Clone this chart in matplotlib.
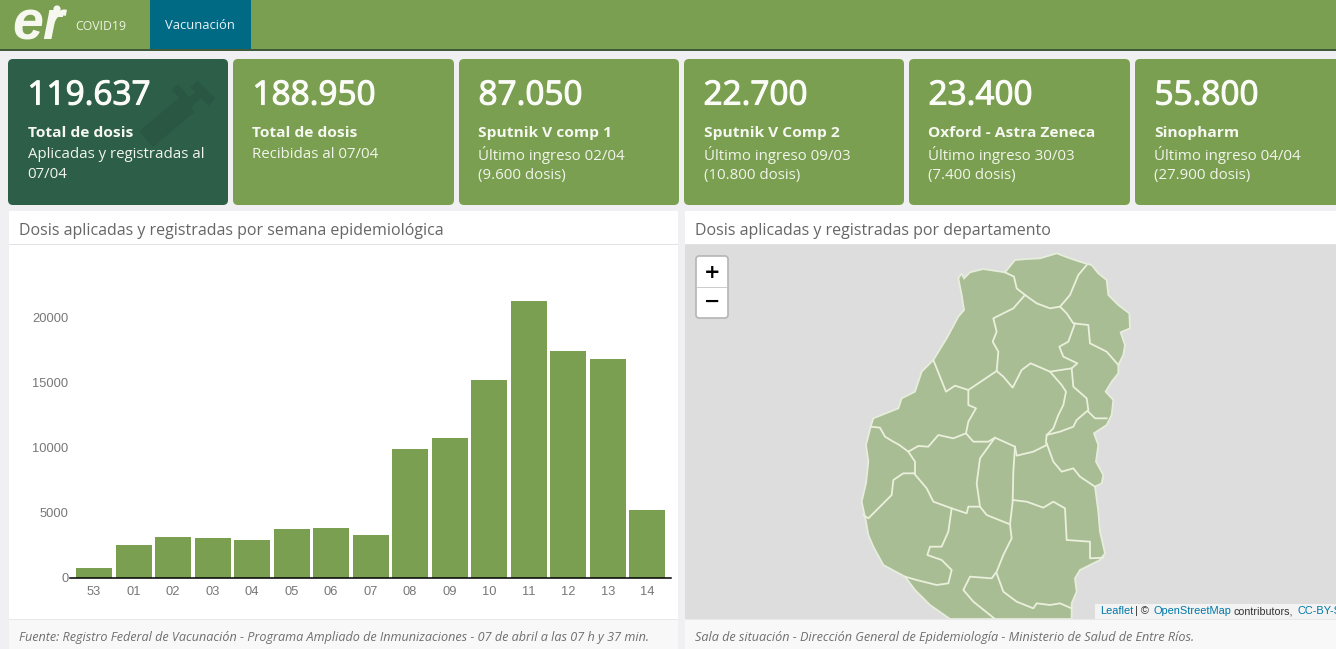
import matplotlib
matplotlib.use('Agg')
import matplotlib.pyplot as plt
import matplotlib.patheffects as pe
from matplotlib.patches import FancyBboxPatch, Rectangle, Polygon, Circle
import numpy as np

W, H = 1336, 649
GREEN = '#7a9f50'
DARK = '#2c5e48'
GREY_TXT = '#666666'
SANS = ['Open Sans', 'DejaVu Sans']

# weekly doses
semanas = ['53', '01', '02', '03', '04', '05', '06', '07', '08', '09', '10', '11', '12', '13', '14']
dosis = [770, 2500, 3140, 3040, 2940, 3760, 3860, 3300, 9910, 10750, 15220, 21280, 17390, 16780, 5240]
yticks = [0, 5000, 10000, 15000, 20000]

# top cards
card_num = ['119.637', '188.950', '87.050', '22.700', '23.400', '55.800']
card_tit = ['Total de dosis', 'Total de dosis', 'Sputnik V comp 1', 'Sputnik V Comp 2',
            'Oxford - Astra Zeneca', 'Sinopharm']
card_l1 = ['Aplicadas y registradas al', 'Recibidas al 07/04', 'Último ingreso 02/04',
           'Último ingreso 09/03', 'Último ingreso 30/03', 'Último ingreso 04/04']
card_l2 = ['07/04', '', '(9.600 dosis)', '(10.800 dosis)', '(7.400 dosis)', '(27.900 dosis)']
card_x0 = [8, 233, 459, 684, 909, 1135]
card_x1 = [228, 454, 679, 904, 1130, 1345]

# province outline and department borders
contorno = [(365,85),(372,100),(390,82),(430,72),(495,82),(525,45),(560,42),(600,40),(650,25),(690,40),
            (735,55),(755,60),(775,85),(800,105),(805,150),(835,180),(868,205),(870,250),(842,262),(855,300),
            (850,330),(835,360),(835,385),(815,410),(797,440),(820,465),(815,510),(800,540),(762,565),(775,600),
            (768,650),(790,690),(785,715),(765,725),(775,800),(780,860),(795,925),(780,945),(720,975),(705,1000),
            (710,1040),(695,1075),(695,1122),(330,1122),(270,1080),(225,1035),(195,995),(130,960),(100,905),(85,870),
            (78,830),(65,770),(78,715),(85,650),(78,600),(92,545),(100,520),(175,490),(185,460),(225,440),
            (245,380),(280,345),(320,280),(355,215),(372,195),(365,150),(355,100)]
limites = [
    [(495,82),(522,95),(530,130),(555,150)],
    [(555,150),(590,175),(630,190),(660,185),(680,205),(700,235),(745,240),(750,295),(800,320),(835,360)],
    [(660,185),(690,150),(715,90),(740,60)],
    [(555,150),(520,190),(460,220),(470,260),(458,290),(475,320),(470,378)],
    [(280,345),(310,420),(318,440),(345,422),(385,435),(385,480),(408,490),(385,530),(378,565)],
    [(470,378),(385,435)],
    [(470,378),(490,395),(518,428),(545,375),(572,355),(630,380),(665,420),(678,440),(670,480),(655,510),
     (640,550),(620,570),(618,590),(620,600),(580,620),(530,632),(525,605),(465,578),(445,590),(400,590),
     (378,565),(340,580),(295,570),(265,605),(235,603),(205,620),(178,600),(160,590),(135,575),(120,548),(92,545)],
    [(705,235),(685,290),(658,305),(670,335),(712,355),(695,370),(630,380)],
    [(695,370),(700,425),(740,460),(745,495),(710,525),(700,545),(660,560),(620,570)],
    [(745,500),(765,520),(800,520)],
    [(620,595),(640,650),(665,680),(700,670),(720,695),(765,725)],
    [(205,620),(225,650),(225,685),(190,685),(160,705),(155,750),(125,780),(85,820),(70,810)],
    [(222,685),(260,730),(280,770),(335,790),(380,805),(385,785),(420,785),(440,810),(510,838)],
    [(465,578),(420,640),(410,715),(420,785)],
    [(525,605),(520,680),(518,770),(510,838),(515,880),(490,930),(470,980),(455,1000),(390,995),(370,1035),
     (400,1070),(465,1122)],
    [(518,765),(560,770),(610,788),(640,770),(675,790),(680,885),(750,890),(750,940),(790,938)],
    [(335,790),(325,860),(305,905),(270,905),(262,930),(305,945),(335,975),(325,1015),(290,1020),(230,1005),(195,995)],
    [(470,985),(490,1040),(530,1070),(580,1090),(590,1075),(630,1080),(660,1075),(695,1090)],
]

def map_xy(p):
    p = np.array(p, dtype=float)
    return np.column_stack([840 + p[:, 0] / 3, 245 + p[:, 1] / 3])

fig = plt.figure(figsize=(W / 100, H / 100), dpi=100, facecolor='#f0f0f2')
bg = fig.add_axes([0, 0, 1, 1])
bg.set_xlim(0, W)
bg.set_ylim(H, 0)
bg.axis('off')

def box(x0, y0, x1, y1, c, z=1):
    bg.add_patch(Rectangle((x0, y0), x1 - x0, y1 - y0, fc=c, ec='none', zorder=z))

def txt(x, y, s, size, c='white', **kw):
    kw.setdefault('family', SANS)
    kw.setdefault('va', 'center')
    return bg.text(x, y, s, fontsize=size, color=c, zorder=6, **kw)

# header
box(0, 0, W, 49, GREEN)
box(0, 49, W, 50.5, '#3f5a3a', 2)
box(150, 0, 251, 49, '#006a85', 2)
LOGO = '#f6f8f0'
txt(12, 40, 'er', 40, LOGO, fontweight='bold', style='italic', family=['Liberation Sans'], va='baseline')
bg.add_patch(Circle((57, 9), 3.6, fc=LOGO, ec='none', zorder=6))
bg.add_patch(Rectangle((50, 11), 13, 6, fc=LOGO, ec='none', zorder=6))
txt(75, 26, 'COVID19', 8.8, '#eef3e2')
txt(165, 25.5, 'Vacunación', 9.4, '#e8f2f5')

# cards
for i in range(6):
    col = DARK if i == 0 else GREEN
    card = FancyBboxPatch((card_x0[i] + 3, 62), card_x1[i] - card_x0[i] - 6, 140,
                          boxstyle='round,pad=3,rounding_size=5', fc=col, ec='none', zorder=2)
    bg.add_patch(card)
    tx = card_x0[i] + 19.5
    n = txt(tx, 96, card_num[i], 24, '#fbfcf8')
    n.set_path_effects([pe.withStroke(linewidth=0.8, foreground='#fbfcf8')])
    txt(tx, 133, card_tit[i], 11.15, '#f5f7f0', fontweight='bold')
    txt(tx, 154.5, card_l1[i], 10.85, '#f2f5ec')
    txt(tx, 175, card_l2[i], 10.85, '#f2f5ec')

# syringe shape behind the text of the first card
SYR = '#295743'
bg.plot([146, 188], [139, 104], color=SYR, lw=15, zorder=3, solid_capstyle='butt')
bg.plot([188, 204], [104, 90], color=SYR, lw=6, zorder=3, solid_capstyle='butt')
bg.plot([194, 212], [84, 102], color=SYR, lw=7, zorder=3, solid_capstyle='butt')
bg.plot([175, 189], [87, 103], color=SYR, lw=6, zorder=3, solid_capstyle='butt')

# panels
box(9, 211, 678, 649, 'white')
box(685, 211, W, 649, 'white')
box(9, 244, 678, 245, '#dfe3e6', 2)
box(685, 244, W, 245, '#dfe3e6', 2)
box(9, 619, 678, 649, '#f8f8f8', 2)
box(685, 619, W, 649, '#f8f8f8', 2)
box(9, 619, 678, 620, '#e8e8e8', 2)
box(685, 619, W, 620, '#e8e8e8', 2)
txt(19, 231, 'Dosis aplicadas y registradas por semana epidemiológica', 11.55, GREY_TXT)
txt(695, 231, 'Dosis aplicadas y registradas por departamento', 11.5, GREY_TXT)
txt(19, 637.5, 'Fuente: Registro Federal de Vacunación - Programa Ampliado de Inmunizaciones - 07 de abril a las 07 h y 37 min.',
    9.1, '#6f6f6f', style='italic')
txt(695, 637.5, 'Sala de situación - Dirección General de Epidemiología - Ministerio de Salud de Entre Ríos.',
    9.1, '#6f6f6f', style='italic')

# map
box(685, 245, W, 619, '#dddddd', 2)
bg.add_patch(Polygon(map_xy(contorno), closed=True, fc='#a9bd94', ec='#e6eddc', lw=1.3, zorder=3))
for linea in limites:
    xy = map_xy(linea)
    bg.plot(xy[:, 0], xy[:, 1], color='#eaf0dc', lw=1.3, zorder=4, solid_joinstyle='round')
box(685, 619, W, 620, '#e8e8e8', 5)

# zoom control
bg.add_patch(FancyBboxPatch((697, 257), 30, 60, boxstyle='round,pad=1,rounding_size=3',
                            fc='white', ec='#b5b5b5', lw=1.2, zorder=5))
box(697, 286.5, 727, 287.5, '#cccccc', 6)
txt(712, 272, '+', 14, 'black', ha='center', fontweight='bold', family=['DejaVu Sans'])
txt(712, 301, '−', 14, 'black', ha='center', fontweight='bold', family=['DejaVu Sans'])

# attribution
box(1095, 604, W, 619, '#f3f3f3', 5)
a = ['Liberation Sans']
txt(1100, 611.5, 'Leaflet', 7.9, '#0078a8', family=a)
txt(1135, 611.5, '| ©', 7.9, '#333333', family=a)
txt(1153, 611.5, 'OpenStreetMap', 7.9, '#0078a8', family=a)
txt(1234, 611.5, 'contributors,', 7.7, '#333333', family=a)
txt(1297, 611.5, 'CC-BY-S', 7.9, '#0078a8', family=a)

# bar chart, axes placed on the pixel grid of the page
px_top, px_zero = 280, 578
unit = (578 - 317.3) / 20000
ax = fig.add_axes([70 / W, 1 - px_zero / H, (671 - 70) / W, (px_zero - px_top) / H])
ax.patch.set_alpha(0)
x = np.arange(len(semanas))
ax.bar(x, dosis, width=0.91, color=GREEN)
ax.set_xlim(-0.608, 14.6)
ax.set_ylim(0, (px_zero - px_top) / unit)
ax.set_xticks(x)
ax.set_xticklabels(semanas)
ax.set_yticks(yticks)
ax.tick_params(axis='both', length=0, labelsize=9.3, labelcolor='#777777')
ax.tick_params(axis='x', pad=6)
ax.tick_params(axis='y', pad=1)
for l in ax.get_xticklabels() + ax.get_yticklabels():
    l.set_family(['Liberation Sans'])
for s in ['top', 'right', 'left']:
    ax.spines[s].set_visible(False)
ax.spines['bottom'].set_color('black')
ax.spines['bottom'].set_linewidth(1.1)

plt.savefig('out.png', dpi=100, facecolor=fig.get_facecolor())
